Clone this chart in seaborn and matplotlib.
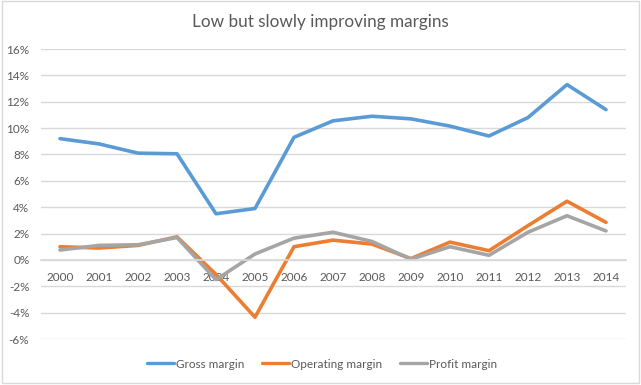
import matplotlib
matplotlib.use("Agg")
import matplotlib.pyplot as plt
import seaborn as sns
import pandas as pd
from matplotlib.patches import Rectangle
from matplotlib.ticker import FuncFormatter

years = [str(y) for y in range(2000, 2015)]
gross = [9.2, 8.8, 8.1, 8.05, 3.5, 3.9, 9.3, 10.55, 10.9, 10.7, 10.15, 9.4, 10.8, 13.3, 11.4]
operating = [1.0, 0.9, 1.1, 1.75, -1.1, -4.35, 1.0, 1.5, 1.2, 0.1, 1.35, 0.7, 2.6, 4.45, 2.85]
profit = [0.75, 1.1, 1.15, 1.7, -1.5, 0.45, 1.65, 2.1, 1.4, 0.05, 1.0, 0.35, 2.1, 3.35, 2.2]
series_names = ["Gross margin", "Operating margin", "Profit margin"]
y_ticks = [-6, -4, -2, 0, 2, 4, 6, 8, 10, 12, 14, 16]

rows = []
for name, vals in zip(series_names, [gross, operating, profit]):
    for i, (yr, v) in enumerate(zip(years, vals)):
        rows.append({"idx": i, "year": yr, "value": v, "series": name})
df = pd.DataFrame(rows)

sns.set_theme(style="white")
plt.rcParams["font.family"] = ["Lato", "DejaVu Sans"]
text_color = "#595959"

fig = plt.figure(figsize=(6.41, 3.85), dpi=100)
ax = fig.add_axes([40.5 / 641, 1 - 339 / 385, (625.5 - 40.5) / 641, (339 - 49) / 385])

palette = {"Gross margin": "#5B9BD5", "Operating margin": "#ED7D31", "Profit margin": "#A5A5A5"}
sns.lineplot(data=df, x="idx", y="value", hue="series", palette=palette, linewidth=2.6,
             ax=ax, legend=True)

ax.set_xlim(-0.5, 14.5)
ax.set_ylim(-6, 16)
ax.set_yticks(y_ticks)
ax.yaxis.set_major_formatter(FuncFormatter(lambda v, p: f"{int(v)}%"))
ax.grid(axis="y", color="#D9D9D9", linewidth=1)
ax.set_axisbelow(True)
ax.set_xticks(range(len(years)))
ax.set_xticklabels(years)
ax.spines["bottom"].set_position(("data", 0))
ax.spines["bottom"].set_color("#D9D9D9")
for s in ["top", "right", "left"]:
    ax.spines[s].set_visible(False)
ax.tick_params(axis="both", length=0, labelsize=8.5, colors=text_color)
ax.tick_params(axis="x", pad=9)
ax.tick_params(axis="y", pad=8)
ax.set_xlabel("")
ax.set_ylabel("")

handles, labels = ax.get_legend_handles_labels()
for h in handles:
    h.set_linewidth(2.4)
ax.legend(handles, labels, loc="center", bbox_to_anchor=(322 / 641, 1 - 364 / 385),
          bbox_transform=fig.transFigure, ncol=3, frameon=False, fontsize=8.5,
          labelcolor=text_color, handlelength=2.3, handletextpad=0.15, columnspacing=1.5)

fig.text(320 / 641, 1 - 22 / 385, "Low but slowly improving margins", ha="center", va="center",
         fontsize=12.3, color=text_color)

fig.patches.append(Rectangle((2 / 641, 2 / 385), 637 / 641, 382 / 385, transform=fig.transFigure,
                             fill=False, edgecolor="#D9D9D9", linewidth=1))

fig.savefig("out.png", dpi=100)
